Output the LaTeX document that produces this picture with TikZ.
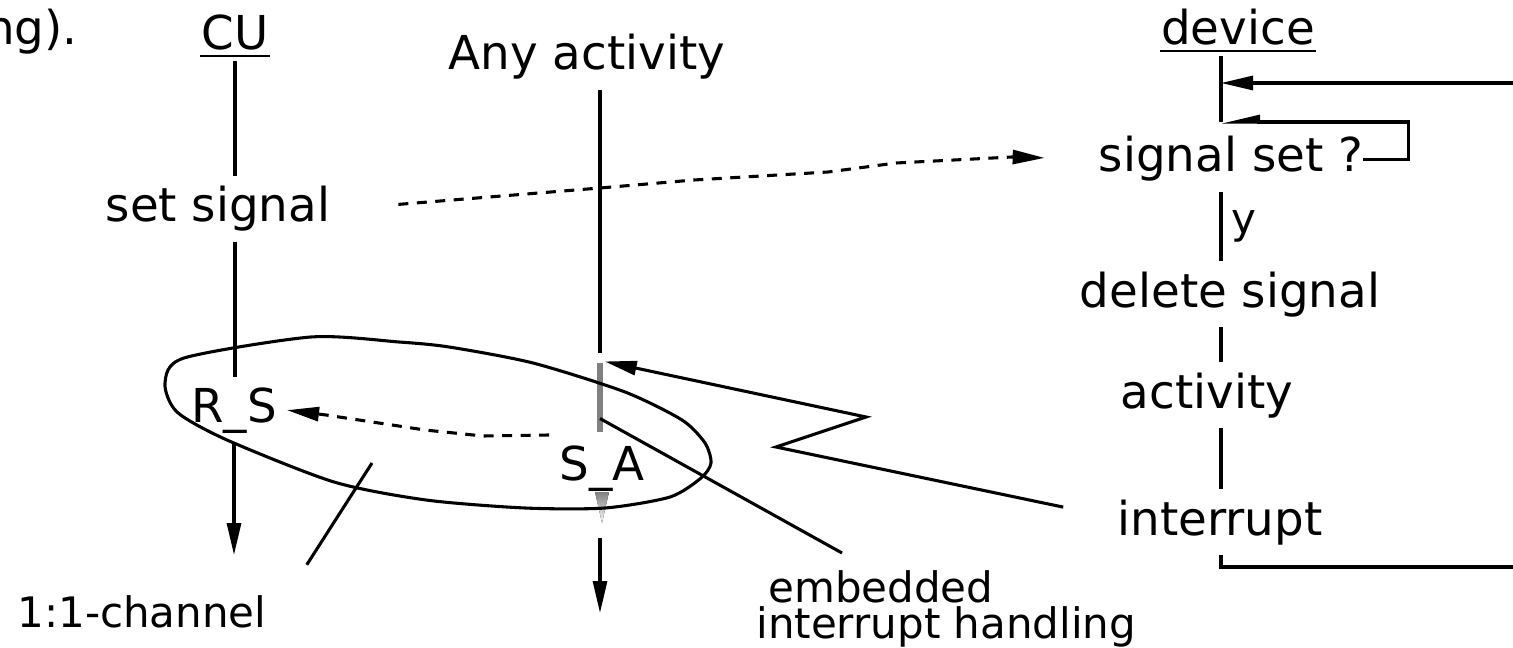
\documentclass[tikz,border=0pt]{standalone}
\usepackage{fontspec}
\setmainfont{DejaVu Sans}
\usepackage{tikz}
\usetikzlibrary{arrows.meta}
\definecolor{ink}{HTML}{000000}
\definecolor{shade}{HTML}{808080}
\tikzset{
  >={Triangle[length=0.64cm,width=0.28cm]},
  txt/.style={font=\fontsize{26.6}{30}\selectfont, inner sep=5pt, text=ink},
  smalltxt/.style={font=\fontsize{23.9}{20.5}\selectfont, inner sep=5pt, text=ink},
  head/.style={txt, inner xsep=0pt},
  sig/.style={->, dash pattern=on 0.2cm off 0.17cm},
  bar/.style={fill=shade, draw=none, minimum width=0.13cm, minimum height=1.38cm, inner sep=0pt},
}

\begin{document}
\begin{tikzpicture}[x=0.02cm, y=-0.02cm, line width=1.75pt]
  \useasboundingbox (0,0) rectangle (1513,648);

  % left lane: control unit
  \node[txt, anchor=base east] (tail) at (88,45) {ng).};
  \node[head, anchor=base] (cu) at (235,50) {CU};
  \draw[line width=1.7pt] ([yshift=-0.12cm]cu.base west) -- ([yshift=-0.12cm]cu.base east);
  \node[txt, anchor=base] (setsig) at (218,222) {set signal};
  \node[txt, anchor=base] (rs) at (234,422) {R\_S};
  \coordinate (rsout) at (234,555);
  \draw (cu.south) -- (cu.south |- setsig.north);
  \draw (setsig.south -| cu.south) -- (rs.north -| cu.south);
  \draw[->] (rs.south -| rsout) -- (rsout);

  % middle lane: any activity with embedded handler
  \node[txt, anchor=base] (any) at (587,70) {Any activity};
  \node[bar] (hbar) at (600,397.5) {};
  \draw (any.south -| hbar) -- ([yshift=0.16cm]hbar.north);
  \node[txt, anchor=base] (sa) at (602,480) {S\_A};
  \coordinate (satip) at (602,523);
  \fill[shade] (satip) -- ++(-7,-31) -- ++(14,0) -- cycle;
  \coordinate (saout) at (600,613);
  \draw[->, shorten <=0.3cm] (satip -| hbar) -- (saout);

  % 1:1 channel
  \draw plot[smooth cycle, tension=0.45] coordinates {
    (165,383) (184,358) (311,337) (399,342) (449,347) (533,363)
    (625,392) (682,420) (705,443) (711,463) (701,478) (670,497)
    (605,508) (525,508) (426,500) (334,482) (227,440) (177,412)};
  \draw[sig] (sa.north west) -- (483,436) -- (425,430) -- (326,415) -- (rs.east);
  \node[smalltxt, anchor=base] (chan) at (142,627) {1:1-channel};
  \coordinate (chanin) at (372,463);
  \draw (chanin) -- ([shift={(30,-20)}]chan.north east);

  \node[smalltxt, anchor=south west, align=left] (emb) at (746,658)
    {\hspace*{0.24cm}embedded\\interrupt handling};
  \coordinate (embtip) at (842,553);
  \draw ([yshift=0.3cm]hbar.south) -- (embtip);

  % right lane: device
  \node[head, anchor=base] (dev) at (1238,45) {device};
  \draw[line width=1.7pt] ([yshift=-0.12cm]dev.base west) -- ([yshift=-0.12cm]dev.base east);
  \coordinate (dpoll) at (1221,83);
  \coordinate (dloop) at (1221,122);
  \coordinate (rttop) at (1525,83);
  \coordinate (rtbot) at (1525,567);
  \draw (dev.south -| dloop) -- (dloop);
  \draw[->] (rttop) -- (dpoll);
  \node[txt, anchor=base] (sigset) at (1231,172) {signal set ?};
  \draw[-{Triangle[harpoon,swap,length=0.64cm,width=0.28cm]}]
    ([xshift=-0.2cm]sigset.east) -- ++(45,0) |- (dloop);
  \node[txt, anchor=base] (delsig) at (1230,307) {delete signal};
  \draw (sigset.south -| dloop) -- node[smalltxt, right] {y} (delsig.north -| dloop);
  \node[txt, anchor=base] (act) at (1207,408) {activity};
  \draw (delsig.south -| dloop) -- (act.north -| dloop);
  \node[txt, anchor=base] (intr) at (1220,535) {interrupt};
  \draw (act.south -| dloop) -- (intr.north -| dloop);
  \draw (intr.south -| dloop) |- (rtbot);
  \draw[->] ([shift={(-44,-15)}]intr.west) -- (776,447) -- (866,417) -- (hbar.north east);

  % signal from CU to device
  \draw[sig, shorten <=1.16cm, shorten >=0.88cm] (setsig.east) -- (600,188)
    -- (694,180) -- (828,172) -- (896,163) -- (1012,157) -- (sigset.west);
\end{tikzpicture}
\end{document}
